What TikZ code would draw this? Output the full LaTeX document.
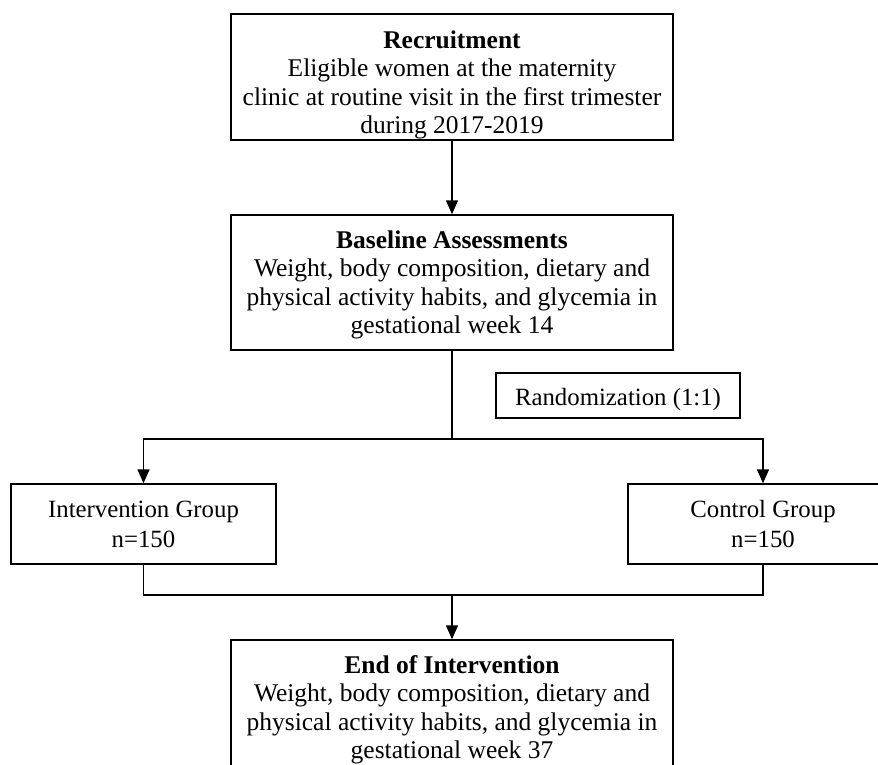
\documentclass[tikz,border=0pt]{standalone}
\usepackage{fontspec}
\setmainfont{Liberation Serif}
\usetikzlibrary{arrows.meta}
\begin{document}
\begin{tikzpicture}[x=1pt,y=-1pt,
  box/.style={draw,line width=1.4pt,inner sep=0pt},
  txt/.style={align=center,inner sep=0pt,font=\fontsize{25.5}{28.5}\selectfont},
  stxt/.style={align=center,inner sep=0pt,font=\fontsize{24.8}{30}\selectfont},
  conn/.style={line width=1.4pt},
  arr/.style={conn,-{Triangle[width=12pt,length=14pt]}}]
\useasboundingbox (0,0) rectangle (878,764);
\node[box,minimum width=442pt,minimum height=126pt,
  label={[txt,yshift=-8pt]center:{\textbf{Recruitment}\\Eligible women at the maternity\\clinic at routine visit in the first trimester\\during 2017-2019}}] (rec) at (452,77) {};
\node[box,minimum width=442pt,minimum height=135pt,
  label={[txt,yshift=-2.5pt]center:{\textbf{Baseline Assessments}\\Weight, body composition, dietary and\\physical activity habits, and glycemia in\\gestational week 14}}] (base) at (452,282.5) {};
\node[box,minimum width=244pt,minimum height=45pt,
  label={[stxt,yshift=-4pt]center:{Randomization (1:1)}}] (rand) at (618,395.5) {};
\node[box,minimum width=265pt,minimum height=80pt,
  label={[stxt]center:{Intervention Group\\n=150}}] (int) at (143.5,524) {};
\node[box,minimum width=270pt,minimum height=80pt,
  label={[stxt]center:{Control Group\\n=150}}] (ctrl) at (763,524) {};
\node[box,minimum width=442pt,minimum height=134pt,
  label={[txt,yshift=-3pt]center:{\textbf{End of Intervention}\\Weight, body composition, dietary and\\physical activity habits, and glycemia in\\gestational week 37}}] (end) at (452,707) {};
\coordinate (split) at (452,439);
\coordinate (join) at (452,595);
\draw[arr] (rec.south) -- (base.north);
\draw[conn] (base.south) -- (split);
\draw[arr] (split) -| (int.north);
\draw[arr] (split) -| (ctrl.north);
\draw[conn] (int.south) |- (join);
\draw[conn] (ctrl.south) |- (join);
\draw[arr] (join) -- (end.north);
\end{tikzpicture}
\end{document}
